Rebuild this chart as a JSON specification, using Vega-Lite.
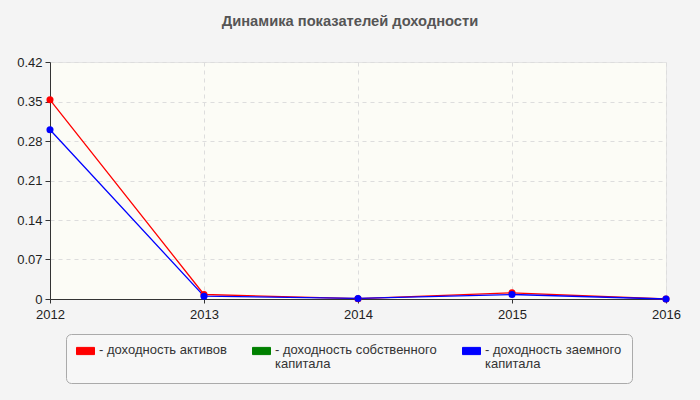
{
  "$schema": "https://vega.github.io/schema/vega-lite/v6.json",
  "description": "Динамика показателей доходности",
  "autosize": "none",
  "padding": {"left": 50, "top": 62, "right": 34, "bottom": 101},
  "width": 616,
  "height": 237,
  "background": "#f4f4f4",
  "title": {
    "text": "Динамика показателей доходности",
    "font": "Liberation Sans",
    "fontSize": 14.7,
    "fontWeight": "bold",
    "color": "#555555",
    "anchor": "middle",
    "dx": -8,
    "offset": 27
  },
  "data": {
    "values": [
      {"year": 2012, "series": "доходность активов", "value": 0.353},
      {"year": 2013, "series": "доходность активов", "value": 0.008},
      {"year": 2014, "series": "доходность активов", "value": 0.0005},
      {"year": 2015, "series": "доходность активов", "value": 0.011},
      {"year": 2016, "series": "доходность активов", "value": 0},
      {"year": 2012, "series": "доходность заемного капитала", "value": 0.3},
      {"year": 2013, "series": "доходность заемного капитала", "value": 0.005},
      {"year": 2014, "series": "доходность заемного капитала", "value": 0.001},
      {"year": 2015, "series": "доходность заемного капитала", "value": 0.008},
      {"year": 2016, "series": "доходность заемного капитала", "value": 0}
    ]
  },
  "mark": {"type": "line", "strokeWidth": 1.3, "point": {"filled": true, "size": 50}},
  "encoding": {
    "x": {
      "field": "year",
      "type": "quantitative",
      "scale": {"domain": [2012, 2016], "nice": false, "zero": false},
      "axis": {
        "title": null,
        "values": [2012, 2013, 2014, 2015, 2016],
        "format": "d",
        "tickSize": 4,
        "labelPadding": 5,
        "labelFlush": false
      }
    },
    "y": {
      "field": "value",
      "type": "quantitative",
      "scale": {"domain": [0, 0.42], "nice": false},
      "axis": {
        "title": null,
        "values": [0, 0.07, 0.14, 0.21, 0.28, 0.35, 0.42],
        "format": ".2~f",
        "tickSize": 5,
        "labelPadding": 3
      }
    },
    "color": {
      "field": "series",
      "type": "nominal",
      "scale": {
        "domain": ["доходность активов", "доходность собственного капитала", "доходность заемного капитала"],
        "range": ["#ff0000", "#008000", "#0000ff"]
      },
      "legend": {
        "title": " ",
        "titleOrient": "bottom",
        "titleFontSize": 2,
        "titlePadding": 0,
        "orient": "none",
        "legendX": 16,
        "legendY": 272,
        "direction": "horizontal",
        "columns": 3,
        "columnPadding": 23,
        "padding": 10,
        "fillColor": "#f7f7f7",
        "strokeColor": "#aaaaaa",
        "cornerRadius": 5,
        "symbolType": "M-1,-0.4H1V0.4H-1Z",
        "symbolSize": 324,
        "symbolStrokeColor": "#555555",
        "symbolStrokeWidth": 1,
        "labelFont": "Liberation Sans",
        "labelFontSize": 13,
        "labelColor": "#333333",
        "labelLimit": 300,
        "labelOffset": 4,
        "labelBaseline": "top",
        "labelExpr": "datum.value == 'доходность активов' ? ['- доходность активов', ' '] : datum.value == 'доходность собственного капитала' ? ['- доходность собственного', '  капитала'] : ['- доходность заемного', '  капитала']",
        "encode": {
          "symbols": {
            "update": {
              "fill": {"scale": "color", "field": "value"},
              "fillOpacity": {"value": 1},
              "stroke": {"value": "#555555"},
              "y": {"value": 7}
            }
          },
          "labels": {
            "update": {
              "y": {"value": 0},
              "lineHeight": {"value": 14}
            }
          }
        }
      }
    },
    "order": {"field": "year"}
  },
  "config": {
    "view": {"fill": "#fcfcf6", "stroke": "#e4e4e4"},
    "axis": {
      "labelFont": "Liberation Sans",
      "labelFontSize": 13,
      "labelColor": "#222222",
      "domainColor": "#333333",
      "tickColor": "#333333",
      "gridColor": "#dddddd",
      "gridDash": [4, 4]
    }
  }
}
